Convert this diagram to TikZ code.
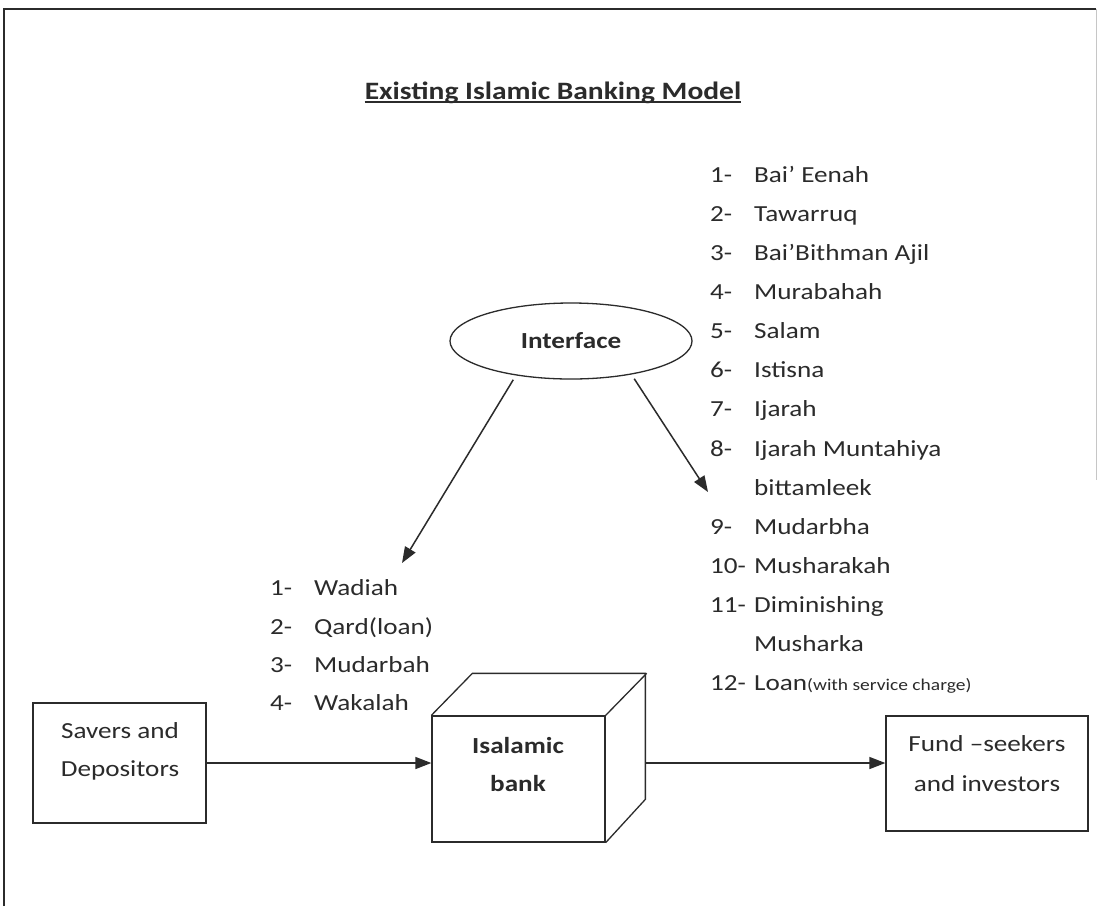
\documentclass[tikz,border=0pt]{standalone}
\usepackage{fontspec}
\setmainfont{Carlito}[FakeStretch=1.18]
\usetikzlibrary{shapes.geometric,arrows.meta}
\definecolor{ink}{HTML}{2B2B2B}
\begin{document}
\begin{tikzpicture}[x=1pt,y=-1pt,
  txt/.style={text=ink,font=\fontsize{23}{38}\selectfont,inner sep=0pt},
  btxt/.style={text=ink,font=\bfseries\fontsize{23}{38}\selectfont,inner sep=0pt},
  box/.style={draw=ink,line width=1.3pt,inner sep=0pt},
  arr/.style={draw=ink,line width=1.5pt,-{Triangle[length=16pt,width=12pt]}},
]
\useasboundingbox (0,0) rectangle (1099,906);
\fill[white] (0,0) rectangle (1099,906);
% page frame
\draw[ink,line width=1.3pt] (4,906) -- (4,9) -- (1096,9);
\draw[gray!45,line width=1pt] (1096,9) -- (1096,480);

% title
\node[text=ink,font=\bfseries\fontsize{25}{30}\selectfont,inner sep=0pt,anchor=base] (title) at (553,99) {Existing Islamic Banking Model};
\draw[ink,line width=1.5pt] ([yshift=-3pt]title.base west) -- ([yshift=-3pt]title.base east);

% right list
\foreach \i/\n/\t in {0/1-/Bai’ Eenah, 1/2-/Tawarruq, 2/3-/Bai’Bithman Ajil, 3/4-/Murabahah,
  4/5-/Salam, 5/6-/Istisna, 6/7-/Ijarah, 7/8-/Ijarah Muntahiya, 8//bittamleek,
  9/9-/Mudarbha, 10/10-/Musharakah, 11/11-/Diminishing, 12//Musharka}{
  \node[txt,anchor=mid west] (rn\i) at (710,{180+39.1*\i}) {\n};
  \node[txt,anchor=mid west] (rt\i) at (754,{180+39.1*\i}) {\t};
}
\node[txt,anchor=mid west] (rn13) at (710,{180+39.1*13}) {12-};
\node[txt,anchor=mid west] (rt13) at (754,{180+39.1*13}) {Loan{\fontsize{16.5}{20}\selectfont(with service charge)}};

% left list
\foreach \i/\n/\t/\y in {0/1-/Wadiah/593, 1/2-/Qard(loan)/632, 2/3-/Mudarbah/670, 3/4-/Wakalah/708}{
  \node[txt,anchor=mid west] (ln\i) at (270,\y) {\n};
  \node[txt,anchor=mid west] (lt\i) at (314,\y) {\t};
}

% interface
\node[draw=ink,line width=1.3pt,ellipse,minimum width=242pt,minimum height=76pt,inner sep=0pt,
  text=ink,font=\bfseries\fontsize{23}{28}\selectfont] (iface) at (571,341) {Interface};
\coordinate (ltip) at (402,563);
\coordinate (rtip) at (708,492);
\draw[arr,shorten <=5pt] (iface.212) -- (ltip);
\draw[arr,shorten <=5pt] (iface.331) -- (rtip);

% savers box
\node[box,minimum width=173pt,minimum height=120pt] (savers) at (119.5,763) {};
\node[txt,align=center] (saverstxt) at (120,751) {Savers and\\Depositors};

% bank cube
\node[box,minimum width=173pt,minimum height=126pt] (bank) at (518.5,779) {};
\draw[box,line join=miter] (bank.north west) -- ++(41,-42) -- ++(173,0) -- ++(0,126) -- (bank.south east);
\draw[box] (bank.north east) -- ++(41,-42);
\node[btxt,align=center] (banktxt) at (518,764) {Isalamic\\bank};

% fund box
\node[box,minimum width=202pt,minimum height=115pt] (fund) at (987,773.5) {};
\node[txt,align=center,font=\fontsize{23}{40}\selectfont] (fundtxt) at (987,764) {Fund –seekers\\and investors};

% flows
\coordinate (bankr) at (646,763);
\draw[arr] (savers.east) -- (savers.east -| bank.west);
\draw[arr] (bankr) -- (bankr -| fund.west);
\end{tikzpicture}
\end{document}
